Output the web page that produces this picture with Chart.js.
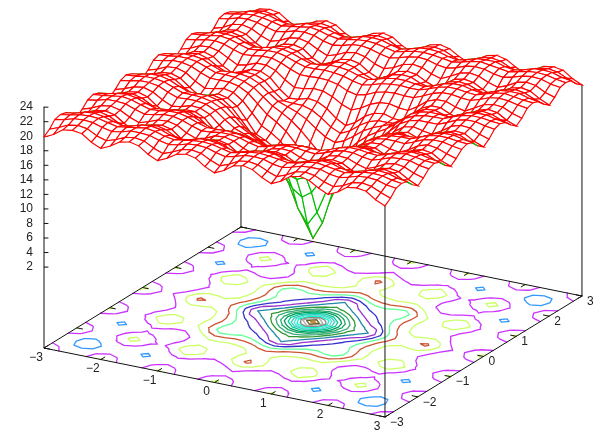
<!DOCTYPE html>
<html>
<head>
<meta charset="utf-8">
<style>
  html, body { margin: 0; background: #fff; }
  canvas { display: block; }
</style>
<script src="https://cdn.jsdelivr.net/npm/chart.js@4/dist/chart.umd.min.js"></script>
</head>
<body>
<canvas id="surface-graph" width="596" height="433"></canvas>
<script>
const xyTicks = [-3, -2, -1, 0, 1, 2, 3];
const zTicks = [2, 4, 6, 8, 10, 12, 14, 16, 18, 20, 22, 24];
const contourLevels = [22, 21, 20, 19, 18, 17, 16, 15, 14, 13, 12, 11, 10, 9, 8, 7, 6, 5, 4, 3];
const contourColors = ["#3399ff", "#cc33ff", "#ccff66", "#cc5533", "#66ff99", "#3333cc", "#9933cc", "#2288aa", "#339933", "#33aa77",
    "#22aa66", "#009966", "#00cc88", "#33cccc", "#66ddcc", "#00ffcc", "#888888", "#aaaaaa", "#666633", "#cc8833"];

// z, step 1/6 from the centre (0,0) out to 3.
// The surface is symmetric about x=0 and y=0 so only this quadrant is kept.
const zQuadrant = [
    [2.4, 4.8, 9.0, 11.9, 13.7, 14.5, 15.1, 16.8, 18.4, 19.3, 19.6, 19.1, 18.8, 19.7, 20.7, 21.1, 21.0, 20.2, 19.7],
    [4.8, 6.7, 9.9, 12.4, 14.2, 15.1, 15.8, 17.3, 18.7, 19.6, 19.9, 19.6, 19.4, 20.1, 21.0, 21.4, 21.3, 20.7, 20.3],
    [9.0, 9.9, 11.8, 13.7, 15.1, 16.1, 16.9, 18.1, 19.3, 20.0, 20.3, 20.3, 20.3, 20.8, 21.4, 21.7, 21.7, 21.4, 21.2],
    [11.9, 12.4, 13.7, 15.0, 16.1, 16.9, 17.6, 18.6, 19.6, 20.2, 20.5, 20.6, 20.6, 21.1, 21.6, 21.8, 21.8, 21.6, 21.5],
    [13.7, 14.2, 15.1, 16.1, 16.8, 17.3, 17.8, 18.7, 19.7, 20.3, 20.5, 20.5, 20.4, 20.9, 21.5, 21.7, 21.7, 21.4, 21.2],
    [14.5, 15.1, 16.1, 16.9, 17.3, 17.3, 17.4, 18.4, 19.6, 20.2, 20.3, 19.9, 19.7, 20.3, 21.1, 21.5, 21.3, 20.8, 20.4],
    [15.1, 15.8, 16.9, 17.6, 17.8, 17.4, 17.3, 18.3, 19.6, 20.2, 20.2, 19.6, 19.2, 19.9, 20.9, 21.3, 21.1, 20.3, 19.8],
    [16.8, 17.3, 18.1, 18.6, 18.7, 18.4, 18.3, 19.1, 20.1, 20.6, 20.6, 20.1, 19.8, 20.5, 21.2, 21.5, 21.4, 20.8, 20.4],
    [18.4, 18.7, 19.3, 19.6, 19.7, 19.6, 19.6, 20.1, 20.7, 21.1, 21.1, 20.9, 20.8, 21.2, 21.7, 21.9, 21.8, 21.5, 21.3],
    [19.3, 19.6, 20.0, 20.2, 20.3, 20.2, 20.2, 20.6, 21.1, 21.4, 21.4, 21.2, 21.1, 21.5, 21.9, 22.1, 21.9, 21.7, 21.6],
    [19.6, 19.9, 20.3, 20.5, 20.5, 20.3, 20.2, 20.6, 21.1, 21.4, 21.4, 21.1, 20.9, 21.3, 21.8, 21.9, 21.9, 21.5, 21.3],
    [19.1, 19.6, 20.3, 20.6, 20.5, 19.9, 19.6, 20.1, 20.9, 21.2, 21.1, 20.6, 20.2, 20.7, 21.4, 21.7, 21.5, 20.9, 20.5],
    [18.8, 19.4, 20.3, 20.6, 20.4, 19.7, 19.2, 19.8, 20.8, 21.1, 20.9, 20.2, 19.6, 20.3, 21.2, 21.5, 21.3, 20.5, 19.9],
    [19.7, 20.1, 20.8, 21.1, 20.9, 20.3, 19.9, 20.5, 21.2, 21.5, 21.3, 20.7, 20.3, 20.8, 21.5, 21.8, 21.6, 20.9, 20.5],
    [20.7, 21.0, 21.4, 21.6, 21.5, 21.1, 20.9, 21.2, 21.7, 21.9, 21.8, 21.4, 21.2, 21.5, 21.9, 22.1, 22.0, 21.6, 21.4],
    [21.1, 21.4, 21.7, 21.8, 21.7, 21.5, 21.3, 21.5, 21.9, 22.1, 21.9, 21.7, 21.5, 21.8, 22.1, 22.2, 22.1, 21.8, 21.6],
    [21.0, 21.3, 21.7, 21.8, 21.7, 21.3, 21.1, 21.4, 21.8, 21.9, 21.9, 21.5, 21.3, 21.6, 22.0, 22.1, 22.0, 21.6, 21.4],
    [20.2, 20.7, 21.4, 21.6, 21.4, 20.8, 20.3, 20.8, 21.5, 21.7, 21.5, 20.9, 20.5, 20.9, 21.6, 21.8, 21.6, 21.0, 20.5],
    [19.7, 20.3, 21.2, 21.5, 21.2, 20.4, 19.8, 20.4, 21.3, 21.6, 21.3, 20.5, 19.9, 20.5, 21.4, 21.6, 21.4, 20.5, 19.9],
];

const gridSize = 36;
const zBase = -9.13;
const zPixels = 7.27;

function gridZ(ix, iy) {
    return zQuadrant[Math.abs(iy - 18)][Math.abs(ix - 18)];
}

// view of the box: x and y run along the base, z straight up
function project(x, y, z) {
    const u = x + 3;
    const v = y + 3;
    return {
        x: 44 + u * 56.83 + v * 32.83,
        y: 348 + u * 11.5 - v * 20.17 - (z - zBase) * zPixels,
    };
}

function gridPoint(ix, iy, z) {
    return project(-3 + ix / 6, -3 + iy / 6, z);
}

function lineDataset(points, color, width) {
    return {
        data: points,
        showLine: true,
        borderColor: color,
        borderWidth: width,
        borderCapStyle: "round",
        pointRadius: 0,
        clip: false,
    };
}

function crossing(level, ax, ay, az, bx, by, bz) {
    const t = (level - az) / (bz - az);
    return gridPoint(ax + (bx - ax) * t, ay + (by - ay) * t, zBase);
}

function contourPoints(level) {
    const points = [];
    const gap = { x: NaN, y: NaN };
    for (let iy = 0; iy < gridSize; iy++) {
        for (let ix = 0; ix < gridSize; ix++) {
            const a = gridZ(ix, iy);
            const b = gridZ(ix + 1, iy);
            const c = gridZ(ix + 1, iy + 1);
            const d = gridZ(ix, iy + 1);
            const cuts = [];
            if ((a < level) !== (b < level)) cuts.push(crossing(level, ix, iy, a, ix + 1, iy, b));
            if ((b < level) !== (c < level)) cuts.push(crossing(level, ix + 1, iy, b, ix + 1, iy + 1, c));
            if ((c < level) !== (d < level)) cuts.push(crossing(level, ix + 1, iy + 1, c, ix, iy + 1, d));
            if ((d < level) !== (a < level)) cuts.push(crossing(level, ix, iy + 1, d, ix, iy, a));
            if (cuts.length === 2) {
                points.push(cuts[0], cuts[1], gap);
            } else if (cuts.length === 4) {
                if ((a + b + c + d) / 4 < level === a < level) {
                    points.push(cuts[0], cuts[1], gap, cuts[2], cuts[3], gap);
                } else {
                    points.push(cuts[0], cuts[3], gap, cuts[1], cuts[2], gap);
                }
            }
        }
    }
    return points;
}

// datasets are listed back to front, reversed at the end for Chart.js
const drawn = [];

contourLevels.forEach((level, i) => {
    drawn.push(lineDataset(contourPoints(level), contourColors[i], 1.3));
});

const boxColor = "#111";
const corners = [[-3, -3], [-3, 3], [3, 3], [3, -3], [-3, -3]];
drawn.push(lineDataset(corners.map((c) => project(c[0], c[1], zBase)), boxColor, 1));

xyTicks.forEach((t) => {
    drawn.push(lineDataset([project(t, -3, zBase), project(t, -2.88, zBase)], boxColor, 1));
    drawn.push(lineDataset([project(t, 3, zBase), project(t, 2.88, zBase)], boxColor, 1));
    drawn.push(lineDataset([project(-3, t, zBase), project(-2.9, t, zBase)], boxColor, 1));
    drawn.push(lineDataset([project(3, t, zBase), project(2.9, t, zBase)], boxColor, 1));
});

drawn.push(lineDataset([project(-3, -3, zBase), project(-3, -3, 24)], boxColor, 1));
drawn.push(lineDataset([project(-3, 3, zBase), project(-3, 3, 20)], boxColor, 1));
drawn.push(lineDataset([project(3, 3, zBase), project(3, 3, 20)], boxColor, 1));
drawn.push(lineDataset([project(3, -3, zBase), project(3, -3, 20)], boxColor, 1));

zTicks.forEach((t) => {
    const foot = project(-3, -3, t);
    drawn.push(lineDataset([foot, { x: foot.x + 4, y: foot.y }], boxColor, 1));
});

// mesh cells, far corner first so nearer cells cover them
for (let iy = gridSize - 1; iy >= 0; iy--) {
    for (let ix = 0; ix < gridSize; ix++) {
        const cell = [
            gridPoint(ix, iy, gridZ(ix, iy)),
            gridPoint(ix + 1, iy, gridZ(ix + 1, iy)),
            gridPoint(ix + 1, iy + 1, gridZ(ix + 1, iy + 1)),
            gridPoint(ix, iy + 1, gridZ(ix, iy + 1)),
        ];
        let area = 0;
        cell.forEach((p, n) => {
            const q = cell[(n + 1) % 4];
            area += p.x * q.y - q.x * p.y;
        });
        const dataset = lineDataset(cell.concat([cell[0]]), area < 0 ? "#ff0000" : "#00c000", 1.15);
        dataset.coverBehind = true;
        drawn.push(dataset);
    }
}

const coverPlugin = {
    id: "coverBehind",
    beforeDatasetDraw(chart, args) {
        if (!chart.data.datasets[args.index].coverBehind) return;
        const ctx = chart.ctx;
        const pts = args.meta.data;
        ctx.save();
        ctx.beginPath();
        pts.forEach((p, n) => (n ? ctx.lineTo(p.x, p.y) : ctx.moveTo(p.x, p.y)));
        ctx.closePath();
        ctx.fillStyle = "#fff";
        ctx.fill();
        ctx.restore();
    },
};

const baseLabels = {
    id: "baseLabels",
    afterDatasetsDraw(chart) {
        const ctx = chart.ctx;
        const sx = chart.scales.x;
        const sy = chart.scales.y;
        ctx.save();
        ctx.font = "12px 'Liberation Sans'";
        ctx.fillStyle = "#222";
        ctx.textBaseline = "middle";
        const format = (t) => (t < 0 ? "\u2212" + -t : String(t));
        xyTicks.forEach((t) => {
            const p = project(t, -3, zBase);
            ctx.textAlign = "center";
            ctx.fillText(format(t), sx.getPixelForValue(p.x) - 8, sy.getPixelForValue(p.y) + 9.5);
        });
        xyTicks.forEach((t) => {
            const p = project(3, t, zBase);
            ctx.textAlign = "left";
            ctx.fillText(format(t), sx.getPixelForValue(p.x) + 5, sy.getPixelForValue(p.y) + 5.5);
        });
        ctx.restore();
    },
};

new Chart(document.getElementById("surface-graph"), {
    type: "scatter",
    data: { datasets: drawn.reverse() },
    options: {
        responsive: false,
        animation: false,
        events: [],
        layout: { padding: 0 },
        plugins: { legend: { display: false }, tooltip: { enabled: false } },
        scales: {
            x: { type: "linear", min: 0, max: 596, display: false },
            y: { type: "linear", min: 0, max: 433, reverse: true, display: false },
            z: {
                type: "linear",
                axis: "y",
                position: { x: 33 },
                min: (281.6 - 433) / zPixels,
                max: 281.6 / zPixels,
                afterBuildTicks(axis) {
                    axis.ticks = zTicks.map((v) => ({ value: v }));
                },
                border: { display: false },
                grid: { display: false },
                ticks: {
                    autoSkip: false,
                    padding: -15,
                    color: "#222",
                    font: { family: "'Liberation Sans'", size: 12 },
                },
            },
        },
    },
    plugins: [coverPlugin, baseLabels],
});
</script>
</body>
</html>
